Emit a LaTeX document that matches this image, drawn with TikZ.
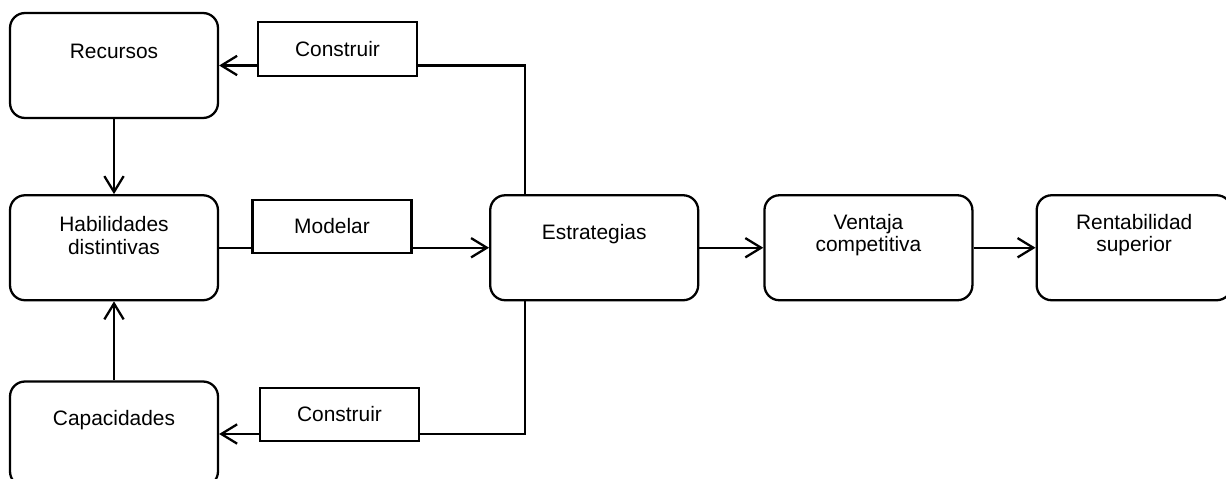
\documentclass[tikz,border=0pt]{standalone}
\usepackage{fontspec}
\setmainfont{Liberation Sans}
\usetikzlibrary{positioning,arrows.meta}

\begin{document}
\begin{tikzpicture}[x=0.02cm, y=-0.02cm, line width=1.3pt,
  font=\fontsize{11.9}{13}\selectfont,
  block/.style={draw, rounded corners=0.3cm, minimum width=4.16cm, minimum height=2.1cm, inner sep=0pt},
  tag/.style={draw, rectangle, minimum width=3.18cm, minimum height=1.07cm, inner sep=0pt},
  txt/.style={align=center, inner sep=0pt},
  >={Straight Barb[length=9pt, width=11pt]}]
\useasboundingbox (0,0) rectangle (1226,479);

% bloques
\node (recursos) [block] at (114,65.5) {};
\node (habilidades) [block, below=1.5cm of recursos] {};
\node (capacidades) [block, below=1.58cm of habilidades] {};
\node (estrategias) [block, right=5.4cm of habilidades] {};
\node (ventaja) [block, right=1.28cm of estrategias] {};
\node (rentabilidad) [block, minimum width=3.9cm, right=1.24cm of ventaja] {};

% textos
\node (recursos-t) [txt] at ([yshift=-0.8cm]recursos.north) {Recursos};
\node (habilidades-t) [txt] at ([yshift=-0.82cm]habilidades.north) {Habilidades\\distintivas};
\node (capacidades-t) [txt] at ([yshift=-0.8cm]capacidades.north) {Capacidades};
\node (estrategias-t) [txt] at ([yshift=-0.8cm]estrategias.north) {Estrategias};
\node (ventaja-t) [txt] at ([yshift=-0.82cm]ventaja.north) {Ventaja\\competitiva};
\node (rentabilidad-t) [txt] at ([yshift=-0.82cm]rentabilidad.north) {Rentabilidad\\superior};

% etiquetas
\node (construir1) [tag] at (337.5,49) {Construir};
\node (modelar) [tag] at (332,226.5) {Modelar};
\node (construir2) [tag] at (339.5,414.5) {Construir};

\draw[->] (recursos) -- (habilidades);
\draw[->] (capacidades) -- (habilidades);
\draw (habilidades.east) -- (habilidades.east -| modelar.west);
\draw[->] (modelar.east |- estrategias.west) -- (estrategias.west);
\draw[->] (estrategias) -- (ventaja);
\draw[->] (ventaja) -- (rentabilidad);

\draw ([xshift=-1.39cm]estrategias.north) |- (construir1.east |- recursos.east);
\draw[->] (construir1.west |- recursos.east) -- (recursos.east);
\draw ([xshift=-1.39cm]estrategias.south) |- (construir2.east |- capacidades.east);
\draw[->] (construir2.west |- capacidades.east) -- (capacidades.east);
\end{tikzpicture}
\end{document}
